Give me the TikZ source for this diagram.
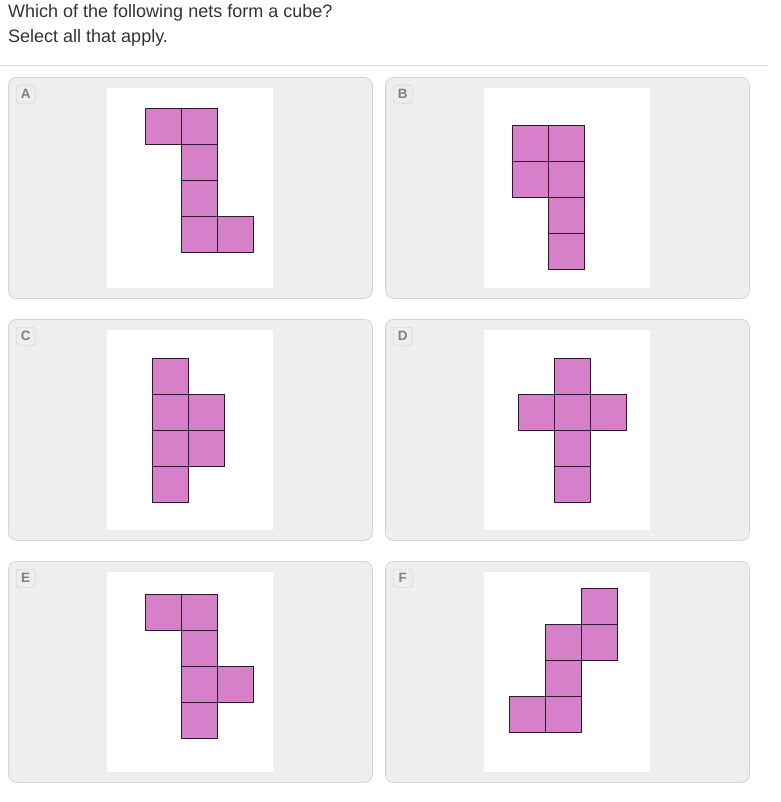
\documentclass[tikz,border=0pt]{standalone}
\usepackage{fontspec}
\setmainfont{Liberation Sans}
\usepackage{tikz}
\definecolor{textgray}{HTML}{333333}
\definecolor{rulegray}{HTML}{DDDDDD}
\definecolor{panelfill}{HTML}{EEEEEE}
\definecolor{panelline}{HTML}{D4D4D4}
\definecolor{badgeline}{HTML}{CCCCCC}
\definecolor{lettergray}{HTML}{808080}
\definecolor{facepink}{HTML}{D580C8}
\definecolor{faceline}{HTML}{2B1A2B}
\tikzstyle{panel}=[draw=panelline,fill=panelfill,rounded corners=8pt,minimum width=364pt,minimum height=221pt,anchor=north west,inner sep=0pt,line width=0.8pt]
\tikzstyle{canvas}=[fill=white,minimum width=166pt,minimum height=200pt,anchor=north west,inner sep=0pt]
\tikzstyle{badge}=[draw=badgeline,fill=panelfill,rounded corners=3pt,minimum width=19pt,minimum height=18pt,anchor=north west,inner sep=0pt,font=\fontsize{13.5}{13.5}\selectfont\bfseries,text=lettergray]
\tikzstyle{face}=[draw=faceline,fill=facepink,minimum size=36pt,inner sep=0pt,anchor=north west,line width=0.9pt]

\begin{document}
\begin{tikzpicture}[x=1pt,y=-1pt]
  \useasboundingbox (0,0) rectangle (780,802);
  \node[anchor=base west,inner sep=0pt,text=textgray,font=\fontsize{18}{18}\selectfont] (question) at (8,17.5) {Which of the following nets form a cube?};
  \node[anchor=base west,inner sep=0pt,text=textgray,font=\fontsize{18}{18}\selectfont] (hint) at (8,43) {Select all that apply.};
  \draw[rulegray,line width=1pt] (0,66) -- (768,66);
  % answer panels
  \foreach \name/\px/\py in {A/8/77, B/385/77, C/8/319, D/385/319, E/8/561, F/385/561} {
    \node[panel] (panel-\name) at (\px,\py) {};
    \node[canvas] (canvas-\name) at (\px+99,\py+11) {};
    \node[badge] (badge-\name) at (\px+8,\py+8) {\name};
  }
  % nets, cells given as column/row
  \foreach \net/\ox/\oy/\cells in {A/145/108/{0/0,1/0,1/1,1/2,1/3,2/3},
                                   B/512/125/{0/0,1/0,0/1,1/1,1/2,1/3},
                                   C/152/358/{0/0,0/1,1/1,0/2,1/2,0/3},
                                   D/518/358/{1/0,0/1,1/1,2/1,1/2,1/3},
                                   E/145/594/{0/0,1/0,1/1,1/2,2/2,1/3},
                                   F/509/588/{2/0,1/1,2/1,1/2,0/3,1/3}}
    \foreach \c/\r in \cells
      \node[face] (\net-\c\r) at (\ox+36*\c,\oy+36*\r) {};
\end{tikzpicture}
\end{document}
